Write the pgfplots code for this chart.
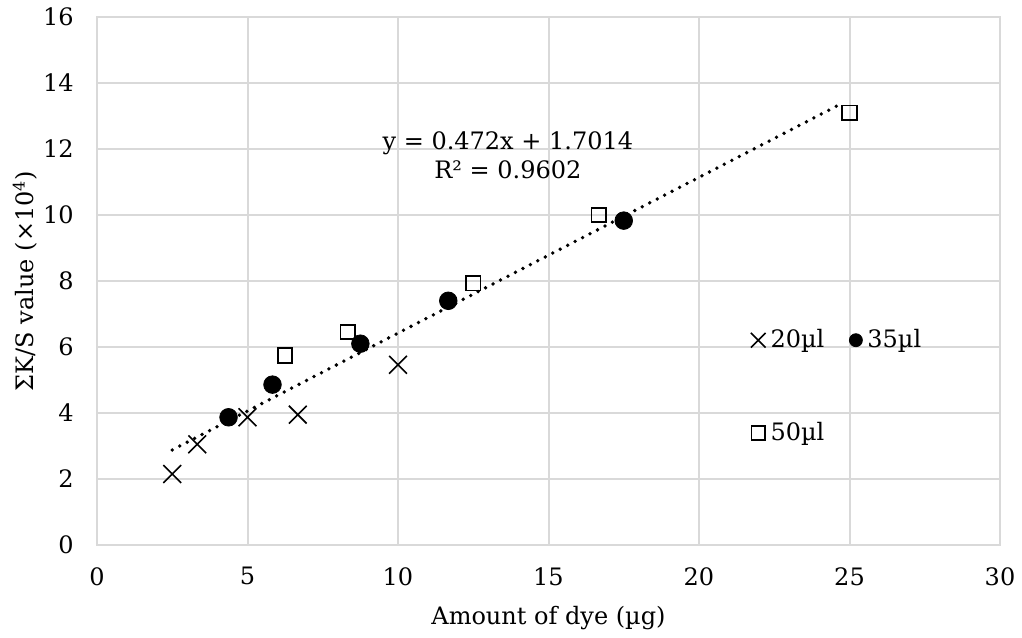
\documentclass[border=0pt]{standalone}
\usepackage{fontspec}
\setmainfont{DejaVu Serif}
\usepackage{pgfplots}
\pgfplotsset{compat=1.18}
\definecolor{gridgray}{HTML}{D9D9D9}

\begin{document}
\fontsize{12}{14.5}\selectfont
\begin{tikzpicture}
\begin{axis}[
  at={(48.5pt,46pt)}, anchor=south west,
  scale only axis, width=451.5pt, height=264pt,
  xmin=0, xmax=30, ymin=0, ymax=16,
  xtick={0,5,...,30}, ytick={0,2,...,16},
  grid=major,
  major grid style={gridgray, line width=1pt},
  axis line style={gridgray, line width=1pt},
  major tick length=0pt,
  /pgf/number format/assume math mode=true,
  xticklabel style={yshift=-7pt},
  yticklabel style={xshift=-7.5pt},
  xlabel={Amount of dye (µg)},
  ylabel={ΣK/S value (×10\textsuperscript{4})},
  xlabel style={at={(axis description cs:0.5,-0.138)}, anchor=center},
  ylabel style={at={(axis description cs:-0.0797,0.5)}, anchor=center},
  legend columns=2,
  legend cell align=left,
  legend style={draw=none, fill=none, inner sep=0pt,
    at={(axis cs:21.71,6.70)}, anchor=north west,
    row sep=30.5pt,
    /tikz/every even column/.append style={column sep=10pt},
    nodes={inner sep=2.5pt}},
  legend image code/.code={%
    \draw[#1] plot coordinates {(0pt,0pt)};},
]
% linear trend of all samples
\addplot[forget plot, black, line width=1.9pt, line cap=round,
  dash pattern=on 0pt off 4.2pt]
  coordinates {(2.5,2.8814) (24.8,13.4070)};

% 20 ul
\addplot[only marks, mark=x, mark size=6.3pt, black, line width=0.8pt,
  legend image post style={mark size=5.2pt}]
  coordinates {(2.5,2.15) (3.33,3.05) (5,3.87) (6.67,3.95) (10,5.46)};
\addlegendentry{20µl}

% 35 ul
\addplot[only marks, mark=*, mark size=4.4pt, black, fill=black,
  legend image post style={mark size=3.25pt}]
  coordinates {(4.37,3.87) (5.83,4.86) (8.75,6.1) (11.67,7.4) (17.5,9.83)};
\addlegendentry{35µl}

% 50 ul
\addplot[only marks, mark=square, mark size=3.6pt, black, fill=white, line width=0.9pt,
  legend image post style={mark size=3.4pt}]
  coordinates {(6.25,5.74) (8.33,6.45) (12.5,7.93) (16.67,10.0) (25,13.1)};
\addlegendentry{50µl}

\node[align=center, inner sep=0pt] at (axis cs:13.65,11.8)
  {y = 0.472x + 1.7014\\ R² = 0.9602};
\end{axis}
\pgfresetboundingbox
\path[use as bounding box] (0,0) rectangle (511pt,318.5pt);
\end{tikzpicture}
\end{document}
